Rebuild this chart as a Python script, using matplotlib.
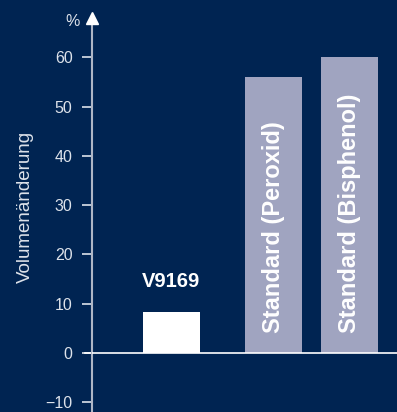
import matplotlib.pyplot as plt

categories = ["V9169", "Standard (Peroxid)", "Standard (Bisphenol)"]
values = [8.3, 56, 60]
yticks = [-10, 0, 10, 20, 30, 40, 50, 60]

bg = "#002452"
fg = "#dde2ea"

plt.rcParams['font.family'] = ['Liberation Sans', 'DejaVu Sans']

fig = plt.figure(figsize=(3.97, 4.12), dpi=100, facecolor=bg)
ax = fig.add_axes([92 / 397, 0, 305 / 397, 397 / 412], facecolor=bg)

xpos = [1.04, 2.39, 3.39]
colors = ["white", "#a0a4c0", "#a0a4c0"]
ax.bar(xpos, values, width=0.75, color=colors, zorder=2)

ax.set_xlim(0, 4.01)
ax.set_ylim(-12.0, 68.6)

# labels
ax.text(xpos[0], values[0] + 4.2, categories[0], ha="center", va="bottom",
        color="white", fontsize=14.5, fontweight="bold")
for x, name in zip(xpos[1:], categories[1:]):
    ax.text(x, 4.0, name, rotation=90, ha="center", va="bottom",
            color="white", fontsize=17, fontweight="bold", zorder=3)

# zero line
ax.axhline(0, color="white", lw=1.2, zorder=3)
ax.plot([-0.09, 0], [0, 0], color="white", lw=1.2, clip_on=False)

for s in ["top", "right", "bottom"]:
    ax.spines[s].set_visible(False)
ax.spines["left"].set_color("#aeb6c6")
ax.spines["left"].set_linewidth(1.5)
ax.set_xticks([])
ax.set_yticks(yticks)
ax.tick_params(axis="y", colors=fg, labelcolor=fg, labelsize=11.5,
               length=7, width=1.2, pad=7)

# arrow on top of axis
ax.plot([0], [68.0], marker="^", color="white", markersize=8,
        clip_on=False, zorder=4)
ax.text(-0.25, 67.2, "%", color=fg, fontsize=11.5, ha="center", va="center")

fig.text(25 / 397, 1 - 207 / 412, "Volumenänderung", rotation=90,
         ha="center", va="center", color=fg, fontsize=13.5)

fig.savefig("out.png", dpi=100, facecolor=bg)
